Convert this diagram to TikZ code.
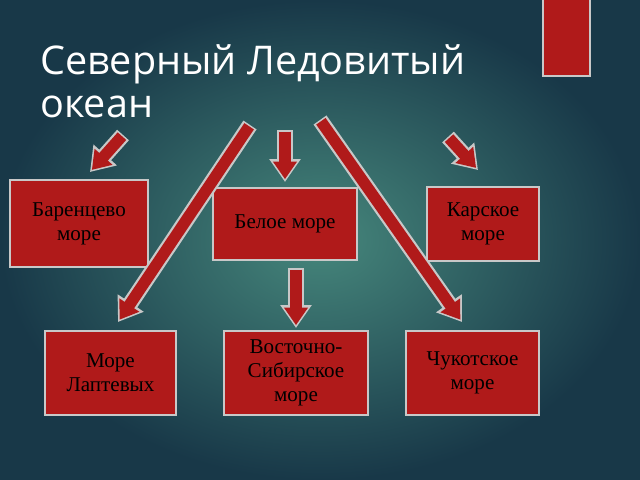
\documentclass[tikz,border=0pt]{standalone}
\usepackage{fontspec}
\setmainfont{Liberation Serif}
\newfontfamily\titlefont{Open Sans}
\usetikzlibrary{arrows.meta}
\definecolor{boxred}{HTML}{B01A1A}
\definecolor{edge}{HTML}{C8C8C8}
\definecolor{bgc}{HTML}{46877C}
\definecolor{bge}{HTML}{183848}
\tikzset{
 sea/.style={draw=edge, line width=1pt, fill=boxred, text=black, align=center, font=\fontsize{12pt}{13.5pt}\selectfont, inner sep=0pt},
 arrout/.style={draw=edge, line width=9pt, -{Triangle[length=13pt,width=17pt]}},
 arrin/.style={draw=boxred, line width=6.5pt, -{Triangle[length=10pt,width=13pt]}, shorten >=1.6pt, shorten <=0.9pt}
}
\begin{document}
\begin{tikzpicture}[x=0.02cm,y=-0.02cm]
\useasboundingbox (0,0) rectangle (640,480);
\fill[inner color=bgc, outer color=bge] (0,0) rectangle (640,480);
\fill[boxred, draw=edge, line width=0.8pt] (543,-2) rectangle (590,76);
\node[anchor=north west, text=white, align=left, font=\titlefont\fontsize{22.5pt}{24.5pt}\selectfont, inner sep=0pt] (title) at (40,44) {Северный Ледовитый\\океан};
\node[sea, minimum width=138*0.02cm, minimum height=87*0.02cm] (b1) at (79,223.5) {Баренцево\\море};
\node[sea, minimum width=144*0.02cm, minimum height=72*0.02cm] (b2) at (285,224) {Белое море};
\node[sea, minimum width=112*0.02cm, minimum height=74*0.02cm] (b3) at (483,224) {Карское\\море};
\node[sea, minimum width=131*0.02cm, minimum height=84*0.02cm] (b4) at (110.5,373) {Море\\Лаптевых};
\node[sea, minimum width=144*0.02cm, minimum height=84*0.02cm] (b5) at (296,373) {Восточно-\\Сибирское\\море};
\node[sea, minimum width=133*0.02cm, minimum height=84*0.02cm] (b6) at (472.5,373) {Чукотское\\море};
\coordinate (s1) at (123,135); \coordinate (e1) at (90,172);
\coordinate (s2) at (285,130); \coordinate (e2) at (285,182);
\coordinate (s3) at (448,137); \coordinate (e3) at (478,170);
\coordinate (s4) at (250,125); \coordinate (e4) at (118,322);
\coordinate (s5) at (320,120); \coordinate (e5) at (462,322);
\coordinate (s6) at (296,268); \coordinate (e6) at (296,328);
\foreach \i in {1,...,6}{
 \draw[arrout] (s\i) -- (e\i);
 \draw[arrin] (s\i) -- (e\i);
}
\end{tikzpicture}
\end{document}
